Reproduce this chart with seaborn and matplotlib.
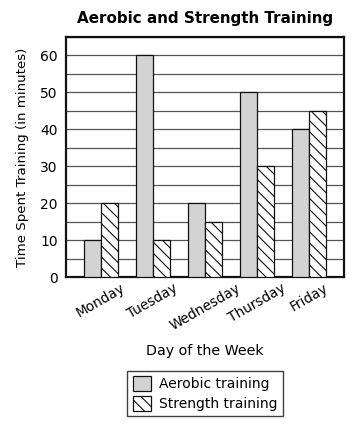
import pandas as pd
import seaborn as sns
import matplotlib.pyplot as plt
from matplotlib.patches import Patch

days = ["Monday", "Tuesday", "Wednesday", "Thursday", "Friday"]
aerobic = [10, 60, 20, 50, 40]
strength = [20, 10, 15, 30, 45]
series = ["Aerobic training", "Strength training"]
yticks = [0, 10, 20, 30, 40, 50, 60]

df = pd.DataFrame({
    "day": days * 2,
    "minutes": aerobic + strength,
    "kind": [series[0]] * len(days) + [series[1]] * len(days),
})

sns.set_style("white")
plt.rcParams["font.family"] = ["DejaVu Sans"]
plt.rcParams["hatch.linewidth"] = 0.8
plt.rcParams["text.color"] = "black"
plt.rcParams["axes.labelcolor"] = "black"
plt.rcParams["xtick.color"] = "black"
plt.rcParams["ytick.color"] = "black"

fig = plt.figure(figsize=(3.51, 4.25), dpi=100)
ax = fig.add_axes([0.188, 0.348, 0.792, 0.565])

sns.barplot(
    data=df, x="day", y="minutes", hue="kind",
    palette=["#d3d3d3", "white"], width=0.65, gap=0,
    edgecolor="#111111", linewidth=0.9, legend=False, ax=ax, zorder=3
)

# hatch the strength bars
for bar in ax.containers[1]:
    bar.set_hatch("\\\\\\")

ax.set_ylim(0, 65)
ax.set_xlim(-0.67, 4.67)
ax.set_yticks(yticks)
ax.set_yticks(range(0, 66, 5), minor=True)
ax.yaxis.grid(True, which="both", color="#555555", linewidth=0.9, zorder=0)
ax.set_axisbelow(True)

for s in ax.spines.values():
    s.set_color("#111111")
    s.set_linewidth(1.6)

ax.tick_params(axis="y", labelsize=10, length=0, pad=6)
ax.tick_params(axis="x", labelsize=9.8, length=0, pad=3)
plt.setp(ax.get_xticklabels(), rotation=30, ha="center")

ax.set_title("Aerobic and Strength Training", fontsize=10.9, fontweight="bold", pad=10)
ax.set_xlabel("Day of the Week", fontsize=10.3, labelpad=8)
ax.set_ylabel("Time Spent Training (in minutes)", fontsize=9.6, labelpad=8)

handles = [
    Patch(facecolor="#d3d3d3", edgecolor="#111111", linewidth=0.9),
    Patch(facecolor="white", edgecolor="#111111", linewidth=0.9, hatch="\\\\\\"),
]
fig.legend(
    handles, series, loc="center", bbox_to_anchor=(0.584, 0.074),
    fontsize=10, frameon=True, fancybox=False, edgecolor="#111111",
    handlelength=1.3, handleheight=1.3, handletextpad=0.6,
    borderpad=0.4, labelspacing=0.3
)

fig.savefig("out.png", dpi=100)
